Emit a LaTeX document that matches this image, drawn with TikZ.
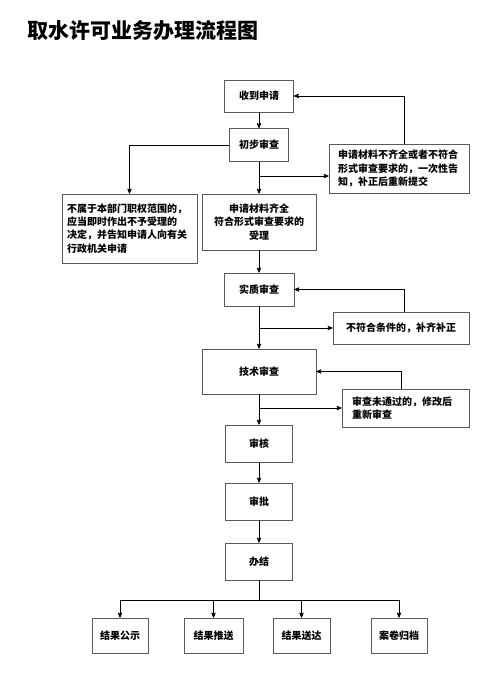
\documentclass[tikz,border=0pt]{standalone}
\usepackage{fontspec}
\newfontfamily\cjk{Noto Sans CJK SC}
\usetikzlibrary{arrows}

\begin{document}
\begin{tikzpicture}[x=1pt,y=-1pt,->,>=stealth',line width=0.8pt,
                    main node/.style={rectangle,draw=black!65,inner sep=3pt,
                      font=\cjk\bfseries\fontsize{10}{13.3}\selectfont},
                    short node/.style={main node,minimum width=67pt,minimum height=37pt},
                    result node/.style={main node,minimum height=35pt},
                    title node/.style={font=\cjk\bfseries\fontsize{21}{24}\selectfont,anchor=west}]

  \useasboundingbox (0,0) rectangle (498,677);
  \node[title node] (title) at (24,31) {取水许可业务办理流程图};

  % main column
  \node[main node,minimum width=69pt,minimum height=32pt] (recv) at (259,96) {收到申请};
  \node[main node,minimum width=59pt,minimum height=33pt] (init) at (259,145) {初步审查};
  \node[main node,text width=108pt,minimum width=114pt,minimum height=56pt,align=center] (accept) at (259,222)
    {申请材料齐全\\符合形式审查要求的\\受理};
  \node[main node,minimum width=70pt,minimum height=33pt] (subst) at (259,289.5) {实质审查};
  \node[main node,minimum width=114pt,minimum height=45pt] (tech) at (259,371.5) {技术审查};
  \node[short node] (audit) at (259,443.5) {审核};
  \node[short node] (approve) at (259,501.5) {审批};
  \node[short node] (done) at (259,561.5) {办结};

  % side boxes
  \node[main node,text width=125pt,minimum width=135pt,minimum height=69pt,align=left] (reject) at (129.5,228.5)
    {不属于本部门职权范围的，\\应当即时作出不予受理的\\决定，并告知申请人向有关\\行政机关申请};
  \node[main node,text width=122pt,minimum width=140pt,minimum height=49pt,align=left] (supp1) at (399,168.5)
    {申请材料不齐全或者不符合\\形式审查要求的，一次性告\\知，补正后重新提交};
  \node[main node,minimum width=136pt,minimum height=32pt] (supp2) at (401,328) {不符合条件的，补齐补正};
  \node[main node,text width=107pt,minimum width=127pt,minimum height=38pt,align=left] (supp3) at (405.5,408)
    {审查未通过的，修改后\\重新审查};

  % results
  \node[result node,minimum width=56pt] (r1) at (120,635.5) {结果公示};
  \node[result node,minimum width=59pt] (r2) at (213.5,635.5) {结果推送};
  \node[result node,minimum width=57pt] (r3) at (301.5,635.5) {结果送达};
  \node[result node,minimum width=56pt] (r4) at (399,635.5) {案卷归档};

  \coordinate (b1) at (259,176);
  \coordinate (b2) at (259,328);
  \coordinate (b3) at (259,408);
  \coordinate (hub) at (259,600);

  \draw (recv) -- (init);
  \draw (init) -- (accept);
  \draw (init) -| (reject);
  \draw (b1) -- (b1 -| supp1.west);
  \draw ([xshift=5pt]supp1.north) |- (recv);
  \draw (accept) -- (subst);
  \draw (subst) -- (tech);
  \draw (b2) -- (supp2);
  \draw ([xshift=3pt]supp2.north) |- (subst);
  \draw (tech) -- (audit);
  \draw (b3) -- (supp3);
  \draw ([xshift=-4pt]supp3.north) |- (tech);
  \draw (audit) -- (approve);
  \draw (approve) -- (done);
  \draw[-] (done) -- (hub);
  \draw[-] (r1 |- hub) -- (r4 |- hub);
  \foreach \r in {r1,r2,r3,r4}
    \draw (\r |- hub) -- (\r);
\end{tikzpicture}
\end{document}
